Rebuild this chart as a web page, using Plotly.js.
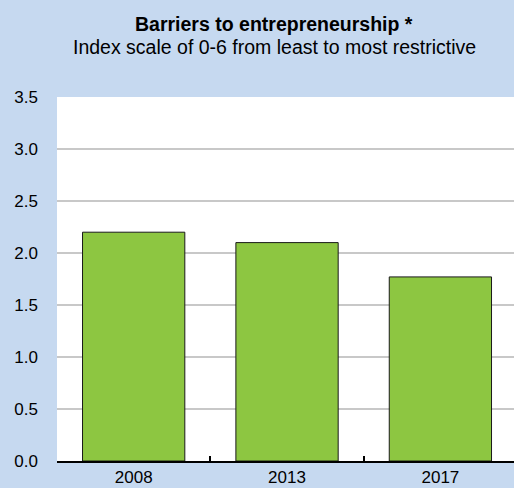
<!DOCTYPE html>
<html><head><meta charset="utf-8">
<script src="https://cdn.plot.ly/plotly-3.0.1.min.js"></script>
<style>html,body{margin:0;padding:0;background:#c6d9f0;}</style>
</head><body>
<div id="chart" style="width:514px;height:488px;"></div>
<script>
var years = ["2008", "2013", "2017"];
var values = [2.20, 2.10, 1.77];
var yTicks = [0, 0.5, 1.0, 1.5, 2.0, 2.5, 3.0, 3.5];
var yTickLabels = ["0.0", "0.5", "1.0", "1.5", "2.0", "2.5", "3.0", "3.5"];
var titleText = "Barriers to entrepreneurship *";
var subtitleText = "Index scale of 0-6 from least to most restrictive";

var font = "'Liberation Sans', Arial, sans-serif";

Plotly.newPlot("chart", [{
  type: "bar",
  x: years,
  y: values,
  marker: {color: "#8dc641", line: {color: "#1a1a1a", width: 1}},
  hoverinfo: "skip"
}], {
  width: 514, height: 488,
  paper_bgcolor: "#c6d9f0",
  plot_bgcolor: "#ffffff",
  margin: {l: 57, r: 0, t: 97, b: 27, pad: 0},
  bargap: 0.333,
  showlegend: false,
  font: {family: font, size: 17, color: "#000"},
  xaxis: {
    type: "category",
    range: [-0.5, 2.48],
    showgrid: false,
    showline: true, linecolor: "#000", linewidth: 2,
    ticks: "inside", tickson: "boundaries", ticklen: 5, tickwidth: 2, tickcolor: "#000",
    tickfont: {family: font, size: 17},
    ticklabelstandoff: 0,
    fixedrange: true
  },
  yaxis: {
    range: [0, 3.5],
    tickvals: yTicks, ticktext: yTickLabels,
    showgrid: true, gridcolor: "#c8c8c8", gridwidth: 1.5,
    zeroline: false, showline: false, ticks: "",
    tickfont: {family: font, size: 17},
    ticklabelstandoff: 18,
    fixedrange: true
  },
  annotations: [
    {text: "<b>" + titleText + "</b>", xref: "paper", yref: "paper",
     x: 0.475, y: 1, yshift: 73, xanchor: "center", yanchor: "middle", showarrow: false,
     font: {family: font, size: 19.5, color: "#000"}},
    {text: subtitleText, xref: "paper", yref: "paper",
     x: 0.475, y: 1, yshift: 50, xanchor: "center", yanchor: "middle", showarrow: false,
     font: {family: font, size: 19.5, color: "#000"}}
  ]
}, {displayModeBar: false, staticPlot: true});
</script>
</body></html>
